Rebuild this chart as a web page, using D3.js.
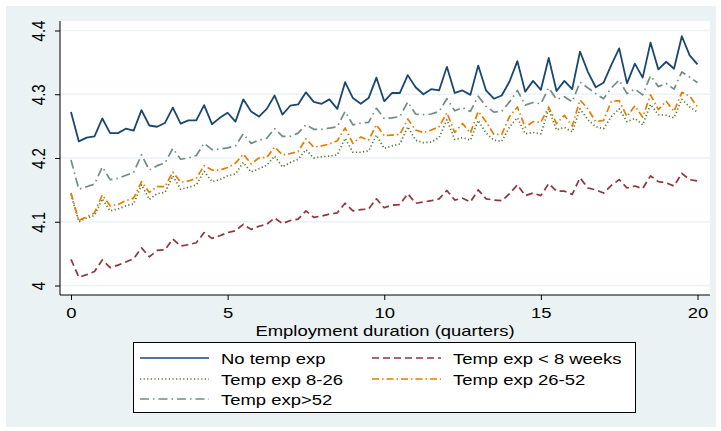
<!DOCTYPE html>
<html><head><meta charset="utf-8">
<script src="https://cdn.jsdelivr.net/npm/d3@7"></script>
<style>body{margin:0;background:#fff}svg{display:block}text{font-family:"Liberation Sans",Arial,sans-serif;fill:#000}</style>
</head><body>
<script>
const step = 0.25; // quarters between observations
const noTemp = [4.272,4.226,4.232,4.234,4.262,4.239,4.239,4.246,4.243,4.275,4.251,4.249,4.255,4.279,4.254,4.259,4.259,4.283,4.253,4.263,4.271,
 4.257,4.292,4.273,4.265,4.277,4.298,4.268,4.282,4.284,4.303,4.288,4.285,4.292,4.277,4.319,4.294,4.285,4.294,4.326,4.289,
 4.302,4.302,4.33,4.311,4.3,4.308,4.306,4.343,4.302,4.306,4.299,4.345,4.306,4.293,4.298,4.32,4.352,4.304,4.321,4.307,
 4.357,4.305,4.321,4.308,4.367,4.335,4.311,4.318,4.346,4.372,4.317,4.348,4.326,4.381,4.339,4.351,4.34,4.391,4.361,4.347];
const tempLt8 = [4.041,4.013,4.017,4.022,4.04,4.028,4.032,4.037,4.042,4.059,4.045,4.055,4.056,4.073,4.062,4.064,4.067,4.083,4.074,4.078,4.083,
 4.086,4.096,4.088,4.093,4.096,4.106,4.097,4.102,4.104,4.117,4.107,4.109,4.112,4.114,4.129,4.117,4.119,4.12,4.136,4.122,
 4.126,4.127,4.144,4.129,4.131,4.133,4.136,4.149,4.134,4.137,4.131,4.15,4.136,4.134,4.133,4.144,4.158,4.141,4.145,4.141,
 4.16,4.148,4.148,4.143,4.169,4.153,4.15,4.145,4.157,4.166,4.153,4.156,4.152,4.172,4.163,4.161,4.156,4.176,4.166,4.164];
const temp8_26 = [4.143,4.1,4.106,4.11,4.136,4.117,4.12,4.125,4.128,4.158,4.135,4.144,4.146,4.172,4.151,4.154,4.158,4.179,4.163,4.166,4.172,
 4.175,4.193,4.178,4.183,4.189,4.203,4.186,4.193,4.198,4.213,4.2,4.202,4.203,4.205,4.231,4.209,4.209,4.211,4.236,4.215,
 4.219,4.222,4.249,4.228,4.224,4.225,4.232,4.26,4.229,4.232,4.228,4.259,4.239,4.228,4.226,4.249,4.263,4.238,4.24,4.238,
 4.277,4.244,4.248,4.241,4.277,4.26,4.249,4.246,4.265,4.277,4.257,4.262,4.252,4.284,4.268,4.267,4.263,4.292,4.28,4.272];
const temp26_52 = [4.145,4.102,4.108,4.114,4.142,4.125,4.127,4.133,4.137,4.163,4.146,4.155,4.155,4.178,4.162,4.164,4.168,4.188,4.181,4.181,4.185,
 4.192,4.206,4.191,4.2,4.201,4.217,4.205,4.207,4.21,4.23,4.217,4.219,4.222,4.227,4.247,4.223,4.233,4.228,4.252,4.235,
 4.236,4.237,4.261,4.244,4.24,4.244,4.249,4.271,4.24,4.254,4.239,4.273,4.257,4.237,4.237,4.265,4.28,4.248,4.257,4.256,
 4.28,4.254,4.267,4.25,4.291,4.277,4.257,4.259,4.289,4.29,4.265,4.282,4.264,4.299,4.276,4.289,4.273,4.303,4.297,4.28];
const tempGt52 = [4.197,4.151,4.155,4.159,4.186,4.166,4.168,4.173,4.177,4.205,4.181,4.188,4.192,4.215,4.198,4.2,4.204,4.223,4.213,4.214,4.216,
 4.219,4.238,4.223,4.228,4.231,4.246,4.234,4.234,4.239,4.252,4.245,4.245,4.247,4.249,4.273,4.252,4.255,4.256,4.278,4.262,
 4.263,4.265,4.288,4.269,4.268,4.269,4.273,4.293,4.274,4.279,4.273,4.297,4.281,4.272,4.273,4.288,4.306,4.283,4.287,4.285,
 4.31,4.292,4.296,4.288,4.319,4.31,4.301,4.293,4.31,4.322,4.301,4.308,4.299,4.329,4.312,4.317,4.308,4.335,4.327,4.318];
const xTicks = [0,5,10,15,20];
const yTicks = [4,4.1,4.2,4.3,4.4];
const yTickLabels = ["4","4.1","4.2","4.3","4.4"];
const seriesNames = ["No temp exp","Temp exp < 8 weeks","Temp exp 8-26","Temp exp 26-52","Temp exp>52"];
const seriesColors = ["#1A476F","#90353B","#55752F","#E37E00","#6E8E84"];
const seriesDash = [null,"7 4","1.2 2.4","7 3 1.5 3","9 4 1.5 4"];
const seriesData = [noTemp,tempLt8,temp8_26,temp26_52,tempGt52];

const W=721,H=431, SX=1.23, FS=15;
const svg=d3.select("body").append("svg").attr("width",W).attr("height",H);
svg.append("rect").attr("x",6).attr("y",6).attr("width",710).attr("height",421).attr("fill","#EAF2F3");
svg.append("rect").attr("x",60).attr("y",21).attr("width",650).attr("height",274).attr("fill","#fff");

const x=d3.scaleLinear().domain([0,20]).range([71,697.5]);
const y=d3.scaleLinear().domain([4,4.4]).range([285.5,30.5]);

svg.append("g").selectAll("line").data(yTicks).join("line")
 .attr("x1",60).attr("x2",710).attr("y1",d=>y(d)).attr("y2",d=>y(d))
 .attr("stroke","#EAF2F3").attr("stroke-width",1.3);

const yAxis=svg.append("g").attr("transform","translate(60,0)")
 .call(d3.axisLeft(y).tickValues(yTicks).tickFormat((d,i)=>yTickLabels[i]).tickSize(5));
yAxis.select(".domain").attr("d","M0,21V295").attr("stroke","#000");
yAxis.selectAll(".tick line").attr("stroke","#000");
yAxis.selectAll(".tick text").attr("font-size",FS).attr("text-anchor","middle")
 .attr("x",0).attr("y",0).attr("dy",null).attr("transform",`translate(-15,0) scale(${SX},1) rotate(-90)`);

const xAxis=svg.append("g").attr("transform","translate(0,295)")
 .call(d3.axisBottom(x).tickValues(xTicks).tickFormat(d3.format("d")).tickSize(5));
xAxis.select(".domain").attr("d","M60,0H710").attr("stroke","#000");
xAxis.selectAll(".tick line").attr("stroke","#000");
xAxis.selectAll(".tick text").attr("font-size",FS).attr("y",0).attr("dy",null)
 .attr("transform",`translate(0,23) scale(${SX},1)`);

svg.append("text").attr("transform",`translate(385,336) scale(${SX},1)`).attr("text-anchor","middle").attr("font-size",FS)
 .text("Employment duration (quarters)");

const line=d3.line().x((d,i)=>x(i*step)).y(d=>y(d));
svg.append("g").selectAll("path").data([0,1,2,3,4]).join("path")
 .attr("d",k=>line(seriesData[k])).attr("fill","none")
 .attr("stroke",k=>seriesColors[k]).attr("stroke-width",k=>k===0?1.8:1.7)
 .attr("stroke-dasharray",k=>seriesDash[k]).attr("stroke-linejoin","round");

const lg=svg.append("g");
lg.append("rect").attr("x",133.5).attr("y",342.5).attr("width",502).attr("height",70).attr("fill","#fff").attr("stroke","#000").attr("stroke-width",1);
const pos=[[140,358],[372,358],[140,379],[372,379],[140,399]];
seriesNames.forEach((n,k)=>{
  const [px,py]=pos[k];
  lg.append("line").attr("x1",px).attr("x2",px+69).attr("y1",py).attr("y2",py)
   .attr("stroke",seriesColors[k]).attr("stroke-width",1.6).attr("stroke-dasharray",seriesDash[k]);
  lg.append("text").attr("transform",`translate(${px+81},${py+5.5}) scale(${SX},1)`).attr("font-size",FS).text(n);
});
</script>
</body></html>
